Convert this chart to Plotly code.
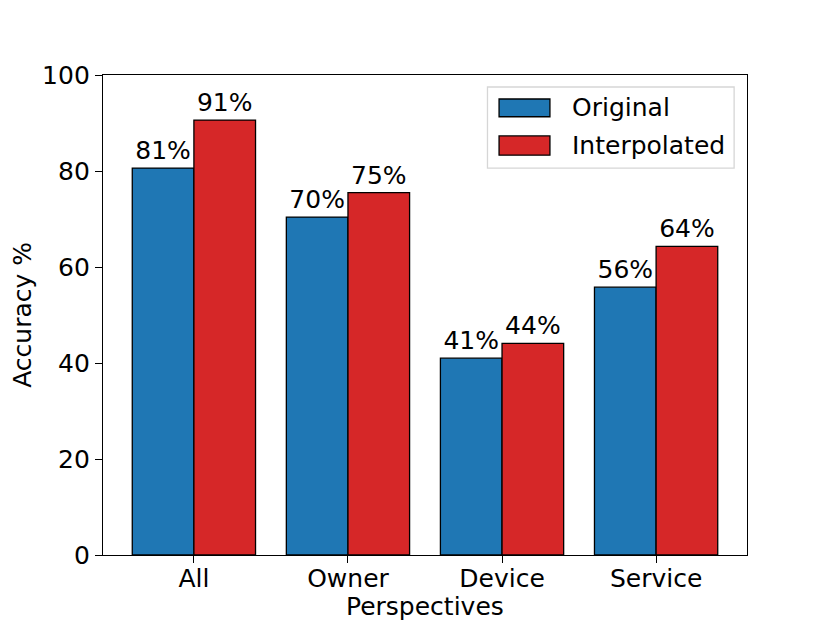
import plotly.graph_objects as go

categories = ["All", "Owner", "Device", "Service"]
original = [80.6, 70.4, 41.0, 55.8]
interpolated = [90.6, 75.5, 44.1, 64.3]
orig_labels = ["81%", "70%", "41%", "56%"]
interp_labels = ["91%", "75%", "44%", "64%"]
y_ticks = [0, 20, 40, 60, 80, 100]
series_names = ["Original", "Interpolated"]
series_colors = ["#1f77b4", "#d62728"]

FONT = "DejaVu Sans"
FS = 25
fig = go.Figure()
for name, vals, labels, color in [(series_names[0], original, orig_labels, series_colors[0]),
                                  (series_names[1], interpolated, interp_labels, series_colors[1])]:
    fig.add_trace(go.Bar(x=categories, y=vals, name=name, text=labels,
                         textposition="outside", cliponaxis=False,
                         textfont=dict(size=FS, color="black", family=FONT),
                         marker=dict(color=color, line=dict(color="black", width=1.3))))

# hand-drawn legend (matplotlib style) in paper coordinates
shapes = [dict(type="rect", xref="paper", yref="paper", x0=0.597, x1=0.980, y0=0.806, y1=0.975,
               line=dict(color="#d6d6d6", width=1.3), fillcolor="white", layer="above")]
annotations = []
patch_y = [(0.950, 0.913), (0.873, 0.833)]
for (ya, yb), name, color in zip(patch_y, series_names, series_colors):
    shapes.append(dict(type="rect", xref="paper", yref="paper", x0=0.615, x1=0.694, y0=yb, y1=ya,
                       line=dict(color="black", width=1.3), fillcolor=color, layer="above"))
    annotations.append(dict(xref="paper", yref="paper", x=0.725, y=(ya + yb) / 2, text=name,
                            showarrow=False, xanchor="left", yanchor="middle",
                            font=dict(size=FS, family=FONT, color="black")))
# axis titles
annotations.append(dict(xref="paper", yref="paper", x=0.5, y=-0.108, text="Perspectives",
                        showarrow=False, xanchor="center", yanchor="middle",
                        font=dict(size=FS, family=FONT, color="black")))
annotations.append(dict(xref="paper", yref="paper", x=-0.126, y=0.5, text="Accuracy %",
                        showarrow=False, xanchor="center", yanchor="middle", textangle=-90,
                        font=dict(size=FS, family=FONT, color="black")))

fig.update_layout(
    width=830, height=623,
    margin=dict(l=95, r=91, t=67, b=76),
    paper_bgcolor="white", plot_bgcolor="white",
    barmode="group", bargap=0.2, bargroupgap=0,
    font=dict(family=FONT, size=FS, color="black"),
    showlegend=False,
    shapes=shapes, annotations=annotations,
)
fig.update_xaxes(range=[-0.59, 3.59], showline=True, linecolor="black", linewidth=1.4,
                 mirror=True, ticks="outside", ticklen=7, tickwidth=1.4, tickcolor="black",
                 showgrid=False, automargin=False, ticklabelstandoff=-6)
fig.update_yaxes(range=[0, 100], tickvals=y_ticks, showline=True, linecolor="black", linewidth=1.4,
                 mirror=True, ticks="outside", ticklen=7, tickwidth=1.4, tickcolor="black",
                 showgrid=False, zeroline=False, automargin=False)

fig.write_html("out.html")
